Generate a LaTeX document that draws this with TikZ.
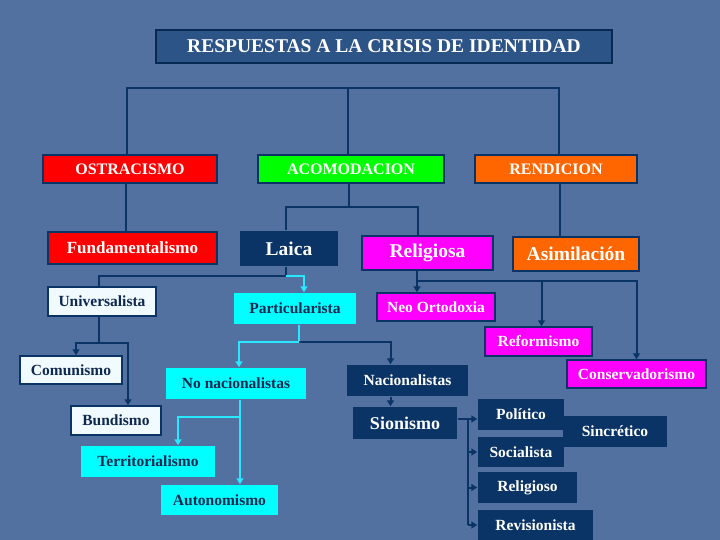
\documentclass[tikz,border=0pt]{standalone}
\usepackage{fontspec}
\setmainfont{Liberation Serif}
\usetikzlibrary{arrows.meta}
\definecolor{bgblue}{RGB}{82,112,160}
\definecolor{navy}{RGB}{10,51,102}
\definecolor{titleblue}{RGB}{44,84,134}
\definecolor{linkcyan}{RGB}{40,232,255}
\definecolor{paleblue}{RGB}{240,250,255}
\definecolor{boxcyan}{RGB}{0,255,255}
\definecolor{boxmagenta}{RGB}{255,0,255}
\definecolor{boxorange}{RGB}{255,102,0}
\definecolor{boxgreen}{RGB}{0,255,0}
\definecolor{boxred}{RGB}{255,0,0}
\definecolor{textnavy}{RGB}{15,40,80}
\tikzset{
  box/.style={inner sep=0pt, line width=1.5pt, draw=navy, font=\bfseries\fontsize{15.5}{17}\selectfont},
  headbox/.style={box, text=white, font=\bfseries\fontsize{16}{18}\selectfont},
  bigbox/.style={box, text=white, font=\bfseries\fontsize{19.5}{21}\selectfont},
  darkbox/.style={box, fill=navy, draw=none, text=white},
  cyanbox/.style={box, fill=boxcyan, draw=none, text=textnavy},
  palebox/.style={box, fill=paleblue, text=textnavy},
  pinkbox/.style={box, fill=boxmagenta, text=white},
  link/.style={draw=navy, line width=2pt},
  clink/.style={draw=linkcyan, line width=2.5pt},
  arr/.style={-{Triangle[length=6pt,width=7pt]}}
}
\begin{document}
\begin{tikzpicture}[x=1pt,y=-1pt]
\fill[bgblue] (0,0) rectangle (720,540);
\useasboundingbox (0,0) rectangle (720,540);
% title and first level
\node[box, fill=titleblue, draw=navy!80!black, text=white, font=\bfseries\fontsize{19.5}{22}\selectfont,
  minimum width=456, minimum height=33] (title) at (384,46.5) {RESPUESTAS A LA CRISIS DE IDENTIDAD};
\node[headbox, fill=boxred, minimum width=174, minimum height=28] (ostra) at (130,169) {OSTRACISMO};
\node[headbox, fill=boxgreen, minimum width=186, minimum height=28] (acomo) at (351,169) {ACOMODACION};
\node[headbox, fill=boxorange, minimum width=162, minimum height=28] (rendi) at (556,169) {RENDICION};
% second level
\node[box, fill=boxred, text=white, font=\bfseries\fontsize{17}{19}\selectfont,
  minimum width=169, minimum height=32] (fund) at (132.5,248) {Fundamentalismo};
\node[bigbox, fill=navy, draw=none, minimum width=98, minimum height=35] (laica) at (289,248.5) {Laica};
\node[bigbox, fill=boxmagenta, minimum width=131, minimum height=34] (relig) at (427.5,253) {Religiosa};
\node[bigbox, fill=boxorange, minimum width=126, minimum height=34] (asim) at (576,254) {Asimilación};
% third level
\node[palebox, minimum width=108, minimum height=29] (univ) at (102,301.5) {Universalista};
\node[cyanbox, minimum width=122, minimum height=31] (partic) at (295,308.5) {Particularista};
\node[pinkbox, minimum width=118, minimum height=28] (neo) at (436,307) {Neo Ortodoxia};
\node[pinkbox, minimum width=107, minimum height=29] (reform) at (538.5,341.5) {Reformismo};
\node[pinkbox, minimum width=139, minimum height=28] (conserv) at (636.5,374) {Conservadorismo};
% lower levels
\node[palebox, minimum width=102, minimum height=28] (comun) at (71,370) {Comunismo};
\node[palebox, minimum width=90, minimum height=29] (bund) at (116,420.5) {Bundismo};
\node[cyanbox, minimum width=140, minimum height=31] (nonac) at (236,383.5) {No nacionalistas};
\node[darkbox, minimum width=121, minimum height=31] (nac) at (407.5,380.5) {Nacionalistas};
\node[darkbox, font=\bfseries\fontsize{18}{20}\selectfont, minimum width=104, minimum height=32] (sion) at (405,423) {Sionismo};
\node[cyanbox, minimum width=134, minimum height=31] (territ) at (148,461.5) {Territorialismo};
\node[cyanbox, minimum width=117, minimum height=30] (auton) at (219.5,500) {Autonomismo};
\node[darkbox, minimum width=86, minimum height=31] (polit) at (521,414.5) {Político};
\node[darkbox, minimum width=104, minimum height=31] (sincr) at (615,431.5) {Sincrético};
\node[darkbox, minimum width=86, minimum height=30] (social) at (521,452) {Socialista};
\node[darkbox, minimum width=99, minimum height=31] (religo) at (527.5,487.5) {Religioso};
\node[darkbox, minimum width=115, minimum height=30] (revis) at (535.5,525) {Revisionista};
% connectors
\coordinate (top) at (348,88);
\draw[link] ([xshift=-3pt]ostra.north) |- (top) -| ([xshift=3pt]rendi.north);
\draw[link] (top) -- (acomo.north -| top);
\draw[link] ([xshift=-4pt]ostra.south) -- ([xshift=-4pt]ostra.south |- fund.north);
\coordinate (acj) at (349,207);
\draw[link] (acomo.south -| acj) -- (acj);
\draw[link] ([xshift=-3pt]laica.north) |- (acj) -| ([xshift=-10pt]relig.north);
\draw[link] ([xshift=4pt]rendi.south) -- ([xshift=4pt]rendi.south |- asim.north);
\coordinate (lj) at (286,276);
\draw[link] (laica.south -| lj) -- (lj) -| ([xshift=-3pt]univ.north);
\draw[clink,arr] (lj) -| ([xshift=9pt]partic.north);
\coordinate (rj) at (417,281);
\draw[link,arr] (relig.south -| rj) -- (neo.north -| rj);
\draw[link,arr] (rj) -| ([xshift=3pt]reform.north);
\draw[link,arr] (rj) -| (conserv.north);
\coordinate (uj) at (99,343);
\draw[link] (univ.south -| uj) -- (uj);
\draw[link,arr] (uj) -| ([xshift=5pt]comun.north);
\draw[link,arr] (uj) -| ([xshift=12pt]bund.north);
\coordinate (pj) at (299,342);
\draw[clink] (partic.south -| pj) -- (pj);
\draw[link,arr] (pj) -| ([xshift=-17pt]nac.north);
\draw[clink,arr] (pj) -| ([xshift=3pt]nonac.north);
\draw[link,arr] ([xshift=-17pt]nac.south) -- ([xshift=-17pt]nac.south |- sion.north);
\coordinate (nj) at (240,417);
\draw[clink,arr] (nonac.south -| nj) -- (auton.north -| nj);
\draw[clink,arr] (nj) -| ([xshift=30pt]territ.north);
\coordinate (sj) at (468,419);
\draw[link,arr] (sion.east |- sj) -- (polit.west |- sj);
\draw[link] (sj) -- (sj |- revis.west);
\draw[link,arr] (sj |- social.west) -- (social.west);
\draw[link,arr] (sj |- religo.west) -- (religo.west);
\draw[link,arr] (sj |- revis.west) -- (revis.west);
\end{tikzpicture}
\end{document}
